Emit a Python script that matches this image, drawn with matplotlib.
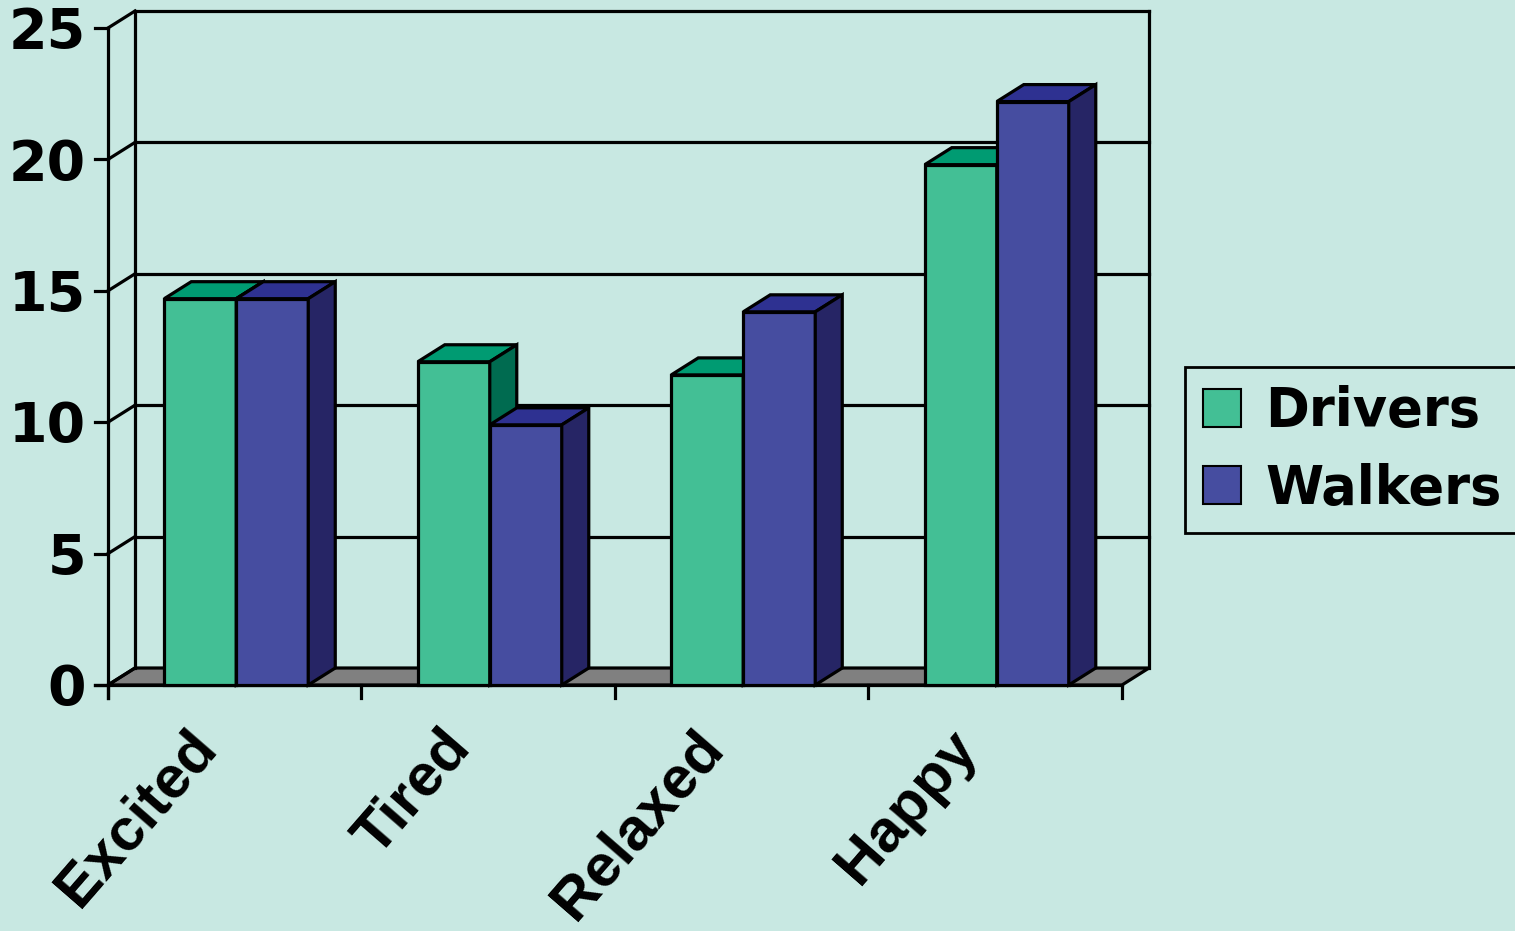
import matplotlib
matplotlib.use('Agg')
import matplotlib.pyplot as plt
from matplotlib.patches import Polygon, Patch
from matplotlib.font_manager import FontProperties

categories = ['Excited', 'Tired', 'Relaxed', 'Happy']
drivers = [14.7, 12.3, 11.8, 19.8]
walkers = [14.7, 9.9, 14.2, 22.2]
series_names = ['Drivers', 'Walkers']
yticks = [0, 5, 10, 15, 20, 25]

BG = '#C8E8E2'
FACE = {'Drivers': ('#43BF95', '#009B72', '#006B50'),
        'Walkers': ('#464DA0', '#2E3191', '#262565')}
FLOOR = '#808080'

W, H = 1515, 931
fig = plt.figure(figsize=(W / 100, H / 100), dpi=100, facecolor=BG)
ax = fig.add_axes([0, 0, 1, 1])
ax.set_facecolor(BG)
ax.axis('off')

x0px, xunit = 108, 253.5
y0px, yunit = 685, 26.28
ax.set_xlim(-x0px / xunit, (W - x0px) / xunit)
ax.set_ylim((y0px - H) / yunit, y0px / yunit)

DX = 27 / xunit
DY = 17 / yunit
ymax = yticks[-1]
n = len(categories)
lw = 2.3
tick_x = 13 / xunit
tick_y = 13 / yunit

line_kw = dict(color='black', lw=lw, solid_capstyle='projecting', zorder=1)

# floor
ax.add_patch(Polygon([(0, 0), (n, 0), (n + DX, DY), (DX, DY)], closed=True,
                     facecolor=FLOOR, edgecolor='black', lw=lw, zorder=1))
# back wall
ax.plot([DX, DX], [DY, ymax + DY], **line_kw)
ax.plot([n + DX, n + DX], [DY, ymax + DY], **line_kw)
for v in yticks[1:]:
    ax.plot([DX, n + DX], [v + DY, v + DY], **line_kw)
# side wall diagonals
for v in yticks:
    ax.plot([0, DX], [v, v + DY], **line_kw)
# front left axis and ticks
ax.plot([0, 0], [-tick_y, ymax], **line_kw)
for v in yticks:
    ax.plot([-tick_x, 0], [v, v], **line_kw)
# bottom axis and category ticks
ax.plot([-tick_x, n], [0, 0], **line_kw)
for i in range(n + 1):
    ax.plot([i, i], [0, -tick_y], **line_kw)

# bars
bw = 0.284
start = 0.222
z = 3
for i in range(n):
    for j, (name, vals) in enumerate(zip(series_names, [drivers, walkers])):
        h = vals[i]
        l = i + start + j * bw
        r = l + bw
        front, top, side = FACE[name]
        kw = dict(closed=True, edgecolor='black', lw=lw, joinstyle='miter', zorder=z)
        ax.add_patch(Polygon([(l, 0), (r, 0), (r, h), (l, h)], facecolor=front, **kw))
        ax.add_patch(Polygon([(l, h), (r, h), (r + DX, h + DY), (l + DX, h + DY)], facecolor=top, **kw))
        ax.add_patch(Polygon([(r, 0), (r + DX, DY), (r + DX, h + DY), (r, h)], facecolor=side, **kw))
        z += 1

# y tick labels
for v in yticks:
    ax.text(-22 / xunit, v - 0.2, str(v), ha='right', va='center',
            fontsize=40, fontweight='bold', family='DejaVu Sans')

# category labels
for i, c in enumerate(categories):
    ax.text(i + 0.5 - 0.03, -1.35, c, rotation=49, ha='right', va='top',
            fontsize=43, fontweight='bold', family='Liberation Sans')

# legend
handles = [Patch(facecolor=FACE[s][0], edgecolor='black', lw=1.5) for s in series_names]
leg = fig.legend(handles, series_names, loc='center left',
                 bbox_to_anchor=(1185 / W, 1 - 450 / H),
                 prop=FontProperties(family='DejaVu Sans', weight='bold', size=38),
                 frameon=True, fancybox=False, edgecolor='black', facecolor=BG,
                 framealpha=1, handlelength=0.72, handleheight=0.72,
                 handletextpad=0.45, labelspacing=0.48, borderpad=0.35,
                 borderaxespad=0)
leg.get_frame().set_linewidth(2)

fig.savefig('out.png', dpi=100, facecolor=BG)
